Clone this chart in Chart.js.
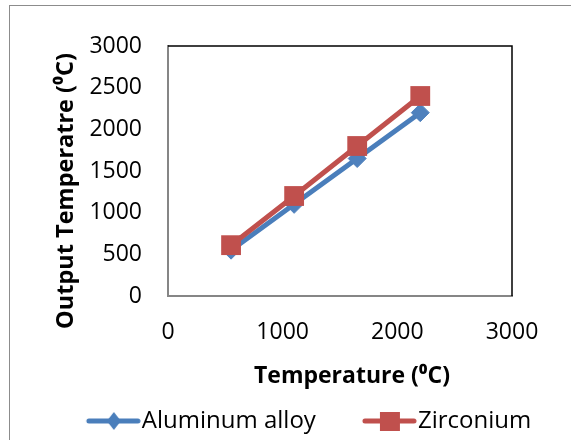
<!DOCTYPE html>
<html>
<head>
<meta charset="utf-8">
<script src="https://cdn.jsdelivr.net/npm/chart.js@4.4.1/dist/chart.umd.min.js"></script>
<style>
	html, body { margin: 0; padding: 0; background: #fff; overflow: hidden; }
	.frame { position: absolute; left: 9px; top: 5px; width: 620px; height: 520px; border: 1.5px solid #8c8c8c; }
	.container { position: absolute; left: 0; top: 0; width: 571px; height: 440px; }
</style>
</head>
<body>
<div class="frame"></div>
<div class="container"><canvas id="tempChart"></canvas></div>
<script>
const inputTemperature = [550, 1100, 1650, 2200];
const aluminumAlloy = [550, 1100, 1650, 2200];
const zirconium = [610, 1200, 1800, 2400];
const xTickValues = [0, 1000, 2000, 3000];
const yTickValues = [0, 500, 1000, 1500, 2000, 2500, 3000];
const xTitle = "Temperature (\u2070C)";
const yTitle = "Output Temperatre (\u2070C)";

const blue = "#4A7EBB";
const red = "#C0504D";
const fontFamily = "'Open Sans', 'DejaVu Sans', sans-serif";

Chart.defaults.font.family = fontFamily;
Chart.defaults.color = "#000";

function toPoints(values) {
	return inputTemperature.map((x, i) => ({ x: x, y: values[i] }));
}

// legend icon: line with marker, like the Excel legend
function makeLegendIcon(color, shape) {
	const c = document.createElement("canvas");
	c.width = 112;
	c.height = 30;
	const g = c.getContext("2d");
	g.strokeStyle = color;
	g.lineWidth = 5;
	g.lineCap = "round";
	g.beginPath();
	g.moveTo(60, 15);
	g.lineTo(109, 15);
	g.stroke();
	g.fillStyle = color;
	if (shape === "diamond") {
		g.beginPath();
		g.moveTo(85, 6);
		g.lineTo(92, 15);
		g.lineTo(85, 24);
		g.lineTo(78, 15);
		g.closePath();
		g.fill();
	} else {
		g.fillRect(75, 6, 20, 19);
	}
	return c;
}

const legendIcons = [makeLegendIcon(blue, "diamond"), makeLegendIcon(red, "square")];

const plotExtras = {
	id: "plotExtras",
	afterDraw(chart) {
		const { ctx, chartArea } = chart;
		ctx.save();
		ctx.strokeStyle = "#000";
		ctx.lineWidth = 1.5;
		ctx.beginPath();
		ctx.moveTo(chartArea.left, chartArea.top);
		ctx.lineTo(chartArea.right, chartArea.top);
		ctx.lineTo(chartArea.right, chartArea.bottom);
		ctx.stroke();

		ctx.fillStyle = "#000";
		ctx.textAlign = "center";
		ctx.textBaseline = "middle";
		ctx.font = "bold 23px " + fontFamily;
		ctx.fillText(xTitle, (chartArea.left + chartArea.right) / 2 + 12, chartArea.bottom + 80);
		ctx.font = "bold 23.5px " + fontFamily;
		ctx.translate(chartArea.left - 102, (chartArea.top + chartArea.bottom) / 2 + 20);
		ctx.rotate(-Math.PI / 2);
		ctx.fillText(yTitle, 0, 0);
		ctx.restore();
	},
};

const plainNumber = value => String(value);

const ctx = document.getElementById("tempChart").getContext("2d");

new Chart(ctx, {
	type: "line",
	data: {
		datasets: [
			{
				label: "Aluminum alloy",
				data: toPoints(aluminumAlloy),
				borderColor: blue,
				backgroundColor: "#4F81BD",
				borderWidth: 5,
				pointStyle: "rectRot",
				pointRadius: 9,
				pointBorderWidth: 1,
				pointBorderColor: "#4F81BD",
				order: 1,
			},
			{
				label: "Zirconium",
				data: toPoints(zirconium),
				borderColor: red,
				backgroundColor: red,
				borderWidth: 5,
				pointStyle: "rect",
				pointRadius: 14,
				pointBorderWidth: 0,
				order: 0,
			},
		],
	},
	options: {
		responsive: true,
		maintainAspectRatio: false,
		animation: false,
		layout: { padding: { left: 0, right: 0, top: 46, bottom: 0 } },
		plugins: {
			tooltip: { enabled: false },
			legend: {
				position: "bottom",
				maxHeight: 31,
				labels: {
					usePointStyle: true,
					pointStyleWidth: 90,
					padding: 0,
					color: "#000",
					font: { size: 24 },
					sort: (a, b) => a.datasetIndex - b.datasetIndex,
					generateLabels(chart) {
						const items = Chart.defaults.plugins.legend.labels.generateLabels(chart);
						items.forEach(item => {
							item.pointStyle = legendIcons[item.datasetIndex];
						});
						return items;
					},
				},
			},
		},
		scales: {
			x: {
				type: "linear",
				min: 0,
				max: 3000,
				afterBuildTicks(scale) {
					scale.ticks = xTickValues.map(v => ({ value: v }));
				},
				ticks: { padding: 23, color: "#000", font: { size: 23 }, callback: plainNumber },
				grid: { display: false, drawTicks: false },
				border: { color: "#868686", width: 2 },
				afterFit(scale) {
					scale.height = 113;
				},
			},
			y: {
				type: "linear",
				min: 0,
				max: 3000,
				afterBuildTicks(scale) {
					scale.ticks = yTickValues.map(v => ({ value: v }));
				},
				ticks: { padding: 26, color: "#000", font: { size: 23 }, callback: plainNumber },
				grid: { display: false, drawTicks: false },
				border: { color: "#868686", width: 2 },
				afterFit(scale) {
					scale.width = 168;
				},
			},
			yRight: {
				type: "linear",
				position: "right",
				ticks: { display: false },
				grid: { display: false, drawTicks: false },
				border: { display: false },
				afterFit(scale) {
					scale.width = 59;
				},
			},
		},
	},
	plugins: [plotExtras],
});
</script>
</body>
</html>
